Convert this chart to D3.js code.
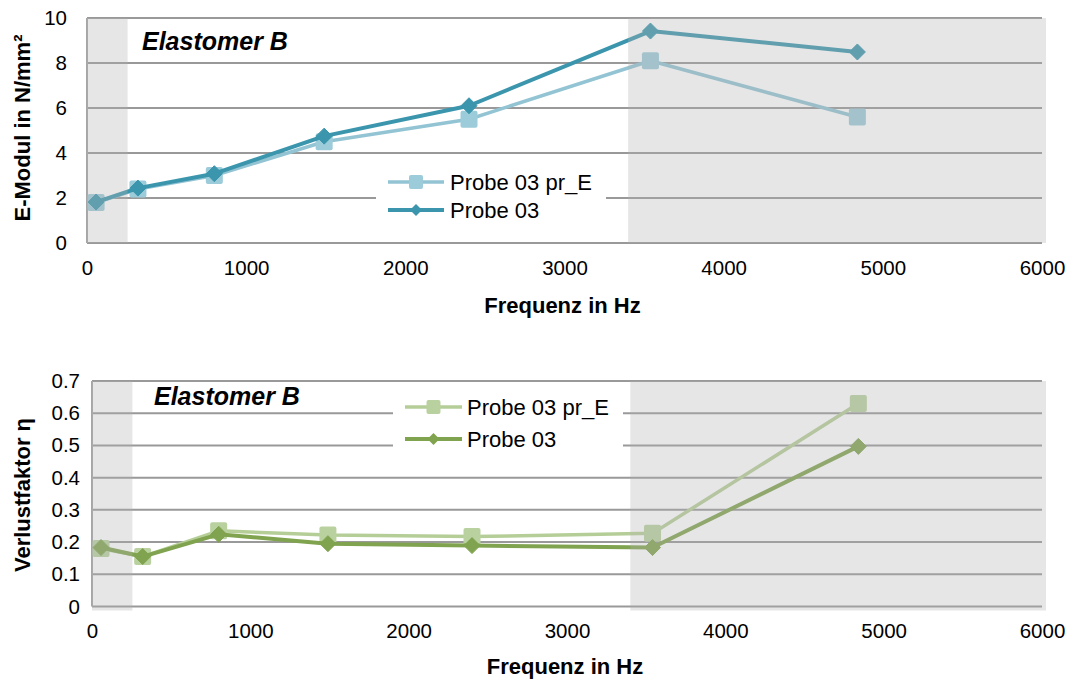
<!DOCTYPE html>
<html>
<head>
<meta charset="utf-8">
<script src="https://cdn.jsdelivr.net/npm/d3@7"></script>
<style>
  html, body { margin: 0; padding: 0; background: #fff; }
  svg { display: block; font-family: "Liberation Sans", Arial, sans-serif; }
</style>
</head>
<body>
<svg id="chart" width="1073" height="682"></svg>
<script>
// Measurement frequencies (Hz)
const frequencies = [57, 320, 800, 1490, 2400, 3540, 4840];

// Elastic modulus in N/mm²
const eModulPrE = [1.8, 2.4, 3.0, 4.5, 5.5, 8.1, 5.6];
const eModul03 = [1.82, 2.44, 3.08, 4.75, 6.1, 9.42, 8.49];

// Loss factor η
const lossPrE = [0.18, 0.155, 0.235, 0.222, 0.217, 0.227, 0.63];
const loss03 = [0.183, 0.155, 0.224, 0.195, 0.189, 0.183, 0.497];

// Axis ticks
const xTicks = [0, 1000, 2000, 3000, 4000, 5000, 6000];
const eTicks = [0, 2, 4, 6, 8, 10];
const lossTicks = [0, 0.1, 0.2, 0.3, 0.4, 0.5, 0.6, 0.7];

// Frequency ranges outside the valid measurement range
const shadedRanges = [[0, 255], [3400, 6000]];

const seriesNames = ["Probe 03 pr_E", "Probe 03"];

const svg = d3.select("#chart");

function drawPanel(cfg) {
  const g = svg.append("g");
  const x = d3.scaleLinear().domain([0, 6000]).range([cfg.left, cfg.right]);
  const y = d3.scaleLinear().domain(cfg.yDomain).range([cfg.bottom, cfg.top]);

  // horizontal grid lines
  g.append("g").selectAll("line").data(cfg.yTicks).join("line")
    .attr("x1", cfg.left).attr("x2", cfg.right)
    .attr("y1", d => y(d)).attr("y2", d => y(d))
    .attr("stroke", "#999").attr("stroke-width", 2);

  // vertical axis line
  g.append("line")
    .attr("x1", cfg.left).attr("x2", cfg.left)
    .attr("y1", cfg.top).attr("y2", cfg.bottom)
    .attr("stroke", "#a6a6a6").attr("stroke-width", 2);

  // legend box (white, hides grid lines behind it)
  g.append("rect")
    .attr("x", cfg.legend.x).attr("y", cfg.legend.y)
    .attr("width", cfg.legend.w).attr("height", cfg.legend.h)
    .attr("fill", "#fff");

  // y tick labels
  const yAxis = d3.axisLeft(y).tickValues(cfg.yTicks).tickSize(0).tickPadding(cfg.yPad)
    .tickFormat(cfg.yFormat);
  const ya = g.append("g").attr("transform", `translate(${cfg.left},0)`).call(yAxis);
  ya.select(".domain").remove();
  ya.selectAll("text").attr("font-size", 20.5).attr("fill", "#000")
    .attr("font-family", "Liberation Sans, Arial, sans-serif");

  // x tick labels
  const xAxis = d3.axisBottom(x).tickValues(xTicks).tickSize(0).tickPadding(cfg.xPad)
    .tickFormat(d3.format("d"));
  const xa = g.append("g").attr("transform", `translate(0,${cfg.bottom})`).call(xAxis);
  xa.select(".domain").remove();
  xa.selectAll("text").attr("font-size", 20.5).attr("fill", "#000")
    .attr("font-family", "Liberation Sans, Arial, sans-serif");

  // series
  const line = d3.line().x(d => x(d[0])).y(d => y(d[1]));
  const s1 = frequencies.map((f, i) => [f, cfg.values1[i]]);
  const s2 = frequencies.map((f, i) => [f, cfg.values2[i]]);

  g.append("path").datum(s1).attr("d", line)
    .attr("fill", "none").attr("stroke", cfg.color1).attr("stroke-width", 3.5)
    .attr("stroke-linejoin", "round");
  g.append("g").selectAll("rect").data(s1).join("rect")
    .attr("x", d => x(d[0]) - 8.5).attr("y", d => y(d[1]) - 8.5)
    .attr("width", 17).attr("height", 17).attr("rx", 2)
    .attr("fill", cfg.marker1);

  g.append("path").datum(s2).attr("d", line)
    .attr("fill", "none").attr("stroke", cfg.color2).attr("stroke-width", 4)
    .attr("stroke-linejoin", "round");
  const diamond = "M0,-8L8,0L0,8L-8,0Z";
  g.append("g").selectAll("path").data(s2).join("path")
    .attr("transform", d => `translate(${x(d[0])},${y(d[1])})`)
    .attr("d", diamond).attr("fill", cfg.color2).attr("stroke", cfg.color2)
    .attr("stroke-width", 1).attr("stroke-linejoin", "round");

  // shaded frequency ranges
  g.append("g").selectAll("rect").data(shadedRanges).join("rect")
    .attr("x", d => x(d[0]))
    .attr("width", d => x(d[1]) - x(d[0]) + (d[1] === 6000 ? 4 : 0))
    .attr("y", cfg.top).attr("height", cfg.bottom - cfg.top + cfg.shadeExtra)
    .attr("fill", "#b0b0b0").attr("opacity", 0.32);

  // legend entries
  const L = cfg.legend;
  [[seriesNames[0], cfg.color1, cfg.marker1, "square", L.row1],
   [seriesNames[1], cfg.color2, cfg.color2, "diamond", L.row2]].forEach(([name, c, mc, shape, ry]) => {
    g.append("line").attr("x1", L.lx1).attr("x2", L.lx2).attr("y1", ry).attr("y2", ry)
      .attr("stroke", c).attr("stroke-width", shape === "square" ? 3.5 : 4);
    const mx = (L.lx1 + L.lx2) / 2;
    if (shape === "square") {
      g.append("rect").attr("x", mx - 7).attr("y", ry - 7).attr("width", 14).attr("height", 14)
        .attr("rx", 2).attr("fill", mc);
    } else {
      g.append("path").attr("transform", `translate(${mx},${ry})`)
        .attr("d", "M0,-6L6,0L0,6L-6,0Z").attr("fill", mc);
    }
    g.append("text").attr("x", L.tx).attr("y", ry).attr("dy", "0.35em")
      .attr("font-size", 22).attr("fill", "#000").text(name);
  });

  // panel label
  g.append("text").attr("x", cfg.labelX).attr("y", cfg.labelY)
    .attr("font-size", 25).attr("font-weight", "bold").attr("font-style", "italic")
    .attr("fill", "#000").text("Elastomer B");

  // axis titles
  g.append("text").attr("x", (cfg.left + cfg.right) / 2 - 2).attr("y", cfg.xTitleY)
    .attr("text-anchor", "middle").attr("font-size", 22).attr("font-weight", "bold")
    .attr("fill", "#000").text("Frequenz in Hz");
  g.append("text")
    .attr("transform", `translate(${cfg.yTitleX},${cfg.yTitleY}) rotate(-90)`)
    .attr("text-anchor", "middle").attr("font-size", 22).attr("font-weight", "bold")
    .attr("fill", "#000").text(cfg.yTitle);
}

drawPanel({
  left: 87, right: 1042, top: 18, bottom: 243,
  yDomain: [0, 10], yTicks: eTicks, yFormat: d3.format("d"), yPad: 20, xPad: 17,
  values1: eModulPrE, values2: eModul03,
  color1: "#93c4d4", marker1: "#9ccbd9", color2: "#3b96ad",
  legend: { x: 376, y: 163, w: 230, h: 68, row1: 182, row2: 210, lx1: 388, lx2: 444, tx: 450 },
  shadeExtra: 0,
  labelX: 142, labelY: 50,
  xTitleY: 313, yTitleX: 30, yTitleY: 128, yTitle: "E-Modul in N/mm²"
});

drawPanel({
  left: 92, right: 1042, top: 381, bottom: 606.5,
  yDomain: [0, 0.7], yTicks: lossTicks, yFormat: d => d === 0 ? "0" : d3.format(".1f")(d), yPad: 12, xPad: 17,
  values1: lossPrE, values2: loss03,
  color1: "#b5ce98", marker1: "#b9d19f", color2: "#80a34f",
  legend: { x: 393, y: 388, w: 230, h: 72, row1: 407, row2: 439, lx1: 405, lx2: 462, tx: 467 },
  shadeExtra: 4,
  labelX: 154, labelY: 405,
  xTitleY: 674, yTitleX: 30, yTitleY: 495, yTitle: "Verlustfaktor η"
});
</script>
</body>
</html>
